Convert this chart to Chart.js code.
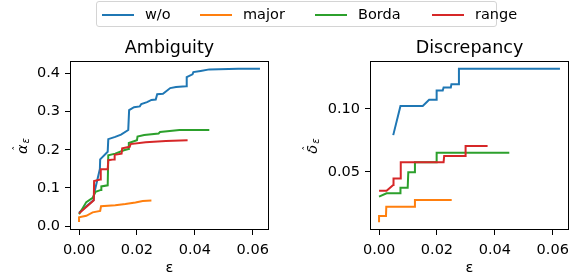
<!DOCTYPE html>
<html>
<head>
<meta charset="utf-8">
<script src="https://cdn.jsdelivr.net/npm/chart.js@4"></script>
<style>
  body { margin: 0; background: #fff; }
  #wrap { position: relative; width: 579px; height: 280px; font-family: "DejaVu Sans", sans-serif; }
  canvas { position: absolute; top: 0; }
  #legend {
    position: absolute; left: 96px; top: 1px; width: 399px; height: 24px;
    border: 1px solid #d4d4d4; border-radius: 3px; background: rgba(255,255,255,0.8);
  }
  .swatch { position: absolute; top: 11.5px; width: 32px; height: 2px; }
  .lbl { position: absolute; top: 4px; font-size: 14.5px; color: #000; white-space: nowrap; }
</style>
</head>
<body>
<div id="wrap">
  <canvas id="amb" width="290" height="280" style="left:0"></canvas>
  <canvas id="disc" width="289" height="280" style="left:290px"></canvas>
  <div id="legend"></div>
</div>
<script>
// series, in plot order
const seriesNames = ["w/o", "major", "Borda", "range"];
const seriesColors = ["#1f77b4", "#ff7f0e", "#2ca02c", "#d62728"];

const xTicks = [0, 0.02, 0.04, 0.06];
const ambTicks = [0, 0.1, 0.2, 0.3, 0.4];
const discTicks = [0.05, 0.1];

// Ambiguity: [epsilon, alpha]
const ambWo = [[0, 0.035], [0.0025, 0.052], [0.005, 0.068], [0.0052, 0.085], [0.0072, 0.15],
  [0.0073, 0.175], [0.0099, 0.195], [0.0101, 0.228], [0.0125, 0.234], [0.0145, 0.24],
  [0.017, 0.252], [0.0173, 0.304], [0.019, 0.312], [0.021, 0.314], [0.0215, 0.32],
  [0.0235, 0.325], [0.025, 0.331], [0.0265, 0.332], [0.027, 0.346], [0.029, 0.347],
  [0.0315, 0.362], [0.0335, 0.365], [0.037, 0.367], [0.0372, 0.391], [0.0392, 0.398],
  [0.0395, 0.404], [0.042, 0.407], [0.045, 0.411], [0.055, 0.413], [0.0625, 0.413]];
const ambMajor = [[0, 0.0105], [0, 0.023], [0.0025, 0.027], [0.0047, 0.036], [0.0073, 0.04],
  [0.0076, 0.052], [0.0125, 0.055], [0.016, 0.058], [0.0195, 0.062], [0.022, 0.066], [0.025, 0.067]];
const ambBorda = [[0, 0.031], [0.0025, 0.063], [0.0047, 0.074], [0.0057, 0.09], [0.0076, 0.095],
  [0.0077, 0.104], [0.0099, 0.107], [0.0101, 0.186], [0.0125, 0.19], [0.0155, 0.199],
  [0.0171, 0.202], [0.0172, 0.218], [0.02, 0.225], [0.0202, 0.235], [0.0225, 0.239],
  [0.0275, 0.243], [0.028, 0.247], [0.0347, 0.252], [0.045, 0.252]];
const ambRange = [[0, 0.034], [0.0025, 0.05], [0.0051, 0.068], [0.0052, 0.118], [0.0073, 0.122],
  [0.0075, 0.149], [0.0099, 0.149], [0.0101, 0.173], [0.0121, 0.175], [0.0123, 0.187],
  [0.0147, 0.19], [0.0149, 0.204], [0.0175, 0.208], [0.0178, 0.215], [0.023, 0.22],
  [0.03, 0.223], [0.0375, 0.225]];

// Discrepancy: [epsilon, delta]
const discWo = [[0.0049, 0.0791], [0.0074, 0.1022], [0.0151, 0.1022], [0.0173, 0.1072],
  [0.0197, 0.1072], [0.0199, 0.1146], [0.022, 0.1146], [0.0223, 0.117], [0.0248, 0.117],
  [0.025, 0.1196], [0.0274, 0.1196], [0.0276, 0.1318], [0.0625, 0.1318]];
const discMajor = [[0, 0.0098], [0, 0.0148], [0.0024, 0.0148], [0.0025, 0.0222], [0.0122, 0.0222],
  [0.0124, 0.0275], [0.0251, 0.0275]];
const discBorda = [[0, 0.0302], [0.0026, 0.0329], [0.0073, 0.0329], [0.0074, 0.0373],
  [0.0099, 0.0373], [0.0101, 0.0495], [0.0122, 0.0495], [0.0124, 0.0575], [0.0197, 0.0575],
  [0.0199, 0.0651], [0.045, 0.0651]];
const discRange = [[0, 0.0349], [0.0026, 0.0349], [0.0049, 0.0394], [0.005, 0.0447],
  [0.0073, 0.0447], [0.0075, 0.0575], [0.0223, 0.0575], [0.0225, 0.0625], [0.0297, 0.0625],
  [0.0299, 0.0704], [0.0375, 0.0704]];

const FONT = "DejaVu Sans";
const TICK_SIZE = 14.5;

// html legend
const legend = document.getElementById("legend");
const swatchX = [5, 103, 218, 335];
const textX = [48, 146, 261, 378];
seriesNames.forEach((name, i) => {
  const s = document.createElement("div");
  s.className = "swatch";
  s.style.left = swatchX[i] + "px";
  s.style.background = seriesColors[i];
  legend.appendChild(s);
  const t = document.createElement("div");
  t.className = "lbl";
  t.style.left = textX[i] + "px";
  t.textContent = name;
  legend.appendChild(t);
});

function makeChart(id, title, yMain, lists, yMin, yMax, yTicks, yDec, yWidth, padRight) {
  const datasets = lists.map((pts, i) => ({
    label: seriesNames[i],
    data: pts.map(p => ({ x: p[0], y: p[1] })),
    showLine: true,
    borderColor: seriesColors[i],
    borderWidth: 2,
    pointRadius: 0,
    fill: false,
    order: lists.length - i,
  }));

  const decor = {
    id: "decor",
    afterDraw(chart) {
      const ctx = chart.ctx;
      const a = chart.chartArea;
      ctx.save();
      ctx.strokeStyle = "#000";
      ctx.lineWidth = 1;
      ctx.strokeRect(a.left + 0.5, a.top + 0.5, a.right - a.left - 1, a.bottom - a.top - 1);
      ctx.fillStyle = "#000";
      ctx.textAlign = "center";
      ctx.textBaseline = "alphabetic";
      ctx.font = "17.5px " + FONT;
      ctx.fillText(title, (a.left + a.right) / 2, 52.5);
      ctx.font = TICK_SIZE + "px " + FONT;
      ctx.fillText("ε", (a.left + a.right) / 2, 272);
      // rotated y label: hat, symbol, subscript epsilon
      ctx.translate(27, (a.top + a.bottom) / 2);
      ctx.rotate(-Math.PI / 2);
      ctx.textAlign = "left";
      ctx.font = "italic " + TICK_SIZE + "px " + FONT;
      const w1 = ctx.measureText(yMain).width;
      ctx.font = "italic 10px " + FONT;
      const w2 = ctx.measureText("ε").width;
      const x0 = -(w1 + w2) / 2 - 1;
      ctx.font = "italic " + TICK_SIZE + "px " + FONT;
      ctx.fillText(yMain, x0, 0);
      ctx.font = "10px " + FONT;
      ctx.textAlign = "center";
      ctx.fillText("ˆ", x0 + w1 / 2 + 1, -6.5);
      ctx.textAlign = "left";
      ctx.font = "italic 10px " + FONT;
      ctx.fillText("ε", x0 + w1 + 1, 1.5);
      ctx.restore();
    },
  };

  return new Chart(document.getElementById(id), {
    type: "scatter",
    data: { datasets },
    options: {
      responsive: false,
      animation: false,
      devicePixelRatio: 1,
      layout: { padding: { top: 61, left: 0, right: padRight, bottom: 0 } },
      scales: {
        x: {
          type: "linear",
          min: -0.003125,
          max: 0.065625,
          bounds: "data",
          afterBuildTicks: s => { s.ticks = xTicks.map(v => ({ value: v })); },
          afterFit: s => { s.height = 50; },
          ticks: {
            callback: v => v.toFixed(2),
            font: { family: FONT, size: TICK_SIZE },
            color: "#000",
            padding: 7,
            maxRotation: 0,
            autoSkip: false,
          },
          grid: { drawOnChartArea: false, drawTicks: true, tickLength: 5, color: "#000" },
          border: { display: false },
        },
        y: {
          type: "linear",
          min: yMin,
          max: yMax,
          bounds: "data",
          afterBuildTicks: s => { s.ticks = yTicks.map(v => ({ value: v })); },
          afterFit: s => { s.width = yWidth; },
          ticks: {
            callback: v => v.toFixed(yDec),
            font: { family: FONT, size: TICK_SIZE },
            color: "#000",
            padding: 5,
            autoSkip: false,
          },
          grid: { drawOnChartArea: false, drawTicks: true, tickLength: 5, color: "#000" },
          border: { display: false },
        },
      },
      plugins: {
        legend: { display: false },
        tooltip: { enabled: false },
        title: { display: false },
      },
    },
    plugins: [decor],
  });
}

makeChart("amb", "Ambiguity", "α", [ambWo, ambMajor, ambBorda, ambRange],
  -0.0102, 0.433, ambTicks, 1, 70, 21);
makeChart("disc", "Discrepancy", "δ", [discWo, discMajor, discBorda, discRange],
  0.0037, 0.138, discTicks, 2, 80, 10);
</script>
</body>
</html>
